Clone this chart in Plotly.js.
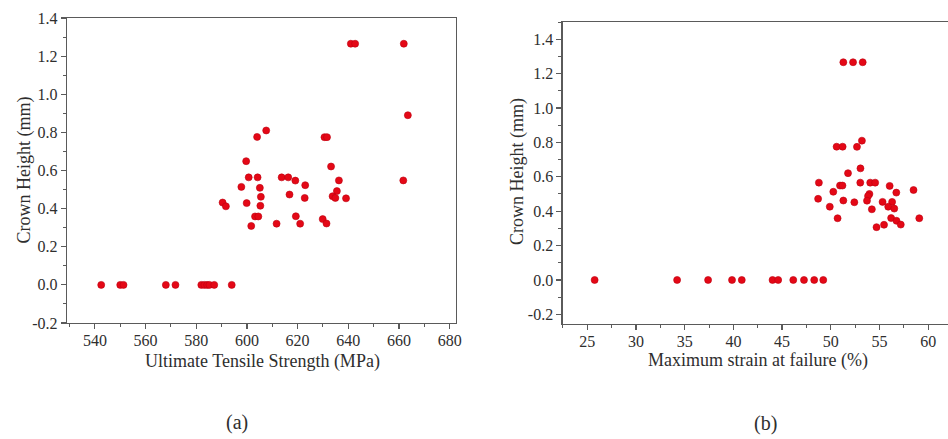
<!DOCTYPE html>
<html>
<head>
<meta charset="utf-8">
<script src="https://cdn.plot.ly/plotly-3.0.1.min.js"></script>
<style>html,body{margin:0;padding:0;background:#fff;}#chart{width:948px;height:439px;}</style>
</head>
<body>
<div id="chart"></div>
<script>
// (a) Ultimate Tensile Strength (MPa) vs Crown Height (mm)
const utsX = [542.5, 550, 551.3, 568, 571.8, 582, 583.2, 584.3, 585.2, 587.1, 594,
  641, 642.7, 661.9, 663.5, 661.7, 607.6, 604, 630.6, 631.6, 599.7, 633.2,
  600.7, 604.2, 613.7, 616.3, 619.1, 636.3, 623, 597.8, 605.1, 635.5,
  605.5, 616.8, 622.8, 633.8, 634.9, 639.1, 590.4, 591.7, 599.9, 605.3,
  603.2, 604.5, 601.7, 611.7, 619.3, 621, 629.9, 631.4];
const utsY = [0, 0, 0, 0, 0, 0, 0, 0, 0, 0, 0,
  1.265, 1.265, 1.265, 0.89, 0.548, 0.81, 0.776, 0.775, 0.775, 0.649, 0.621,
  0.564, 0.564, 0.564, 0.564, 0.547, 0.548, 0.523, 0.514, 0.509, 0.492,
  0.462, 0.474, 0.456, 0.465, 0.456, 0.454, 0.432, 0.412, 0.429, 0.415,
  0.359, 0.359, 0.309, 0.321, 0.36, 0.321, 0.345, 0.322];

// (b) Maximum strain at failure (%) vs Crown Height (mm)
const strainX = [25.75, 34.22, 37.4, 39.86, 40.86, 44.02, 44.6, 46.15, 47.25, 48.3, 49.23,
  51.29, 52.29, 53.28, 50.6, 51.22, 52.69, 53.2, 53.05, 51.77, 48.78,
  50.95, 51.2, 53.03, 54.05, 54.56, 56.05, 50.26, 56.73, 58.5, 53.97,
  53.83, 48.7, 51.29, 52.42, 53.72, 55.32, 56.3, 49.9, 54.22, 55.9,
  56.52, 50.7, 56.2, 54.7, 55.47, 56.75, 57.19, 59.09];
const strainY = [0, 0, 0, 0, 0, 0, 0, 0, 0, 0, 0,
  1.266, 1.266, 1.266, 0.775, 0.775, 0.774, 0.81, 0.649, 0.621, 0.566,
  0.549, 0.549, 0.566, 0.566, 0.566, 0.547, 0.513, 0.508, 0.523, 0.5,
  0.488, 0.472, 0.462, 0.452, 0.461, 0.454, 0.454, 0.426, 0.411, 0.426,
  0.415, 0.359, 0.36, 0.307, 0.321, 0.344, 0.322, 0.359];

const xTicksA = [540, 560, 580, 600, 620, 640, 660, 680];
const xTicksB = [25, 30, 35, 40, 45, 50, 55, 60];
const yTickVals = [-0.2, 0, 0.2, 0.4, 0.6, 0.8, 1.0, 1.2, 1.4];
const yTickText = ['-0.2', '0.0', '0.2', '0.4', '0.6', '0.8', '1.0', '1.2', '1.4'];

const titleA_x = 'Ultimate Tensile Strength (MPa)';
const titleB_x = 'Maximum strain at failure (%)';
const titleY = 'Crown Height (mm)';

const FONT = "'Liberation Serif', 'Times New Roman', serif";
const AX = '#5a5a5a';
const TXT = '#2e2e2e';
const marker = {size: 7, color: 'rgb(228,8,22)', line: {width: 0.6, color: 'rgb(190,0,15)'}};

const traces = [
  {x: utsX, y: utsY, type: 'scatter', mode: 'markers', marker: marker, xaxis: 'x', yaxis: 'y', hoverinfo: 'x+y'},
  {x: strainX, y: strainY, type: 'scatter', mode: 'markers', marker: marker, xaxis: 'x2', yaxis: 'y2', hoverinfo: 'x+y'}
];

function axis(extra) {
  return Object.assign({
    showgrid: false, zeroline: false, showline: true, linecolor: AX, linewidth: 1.3,
    ticks: 'outside', ticklen: 5, tickwidth: 1.2, tickcolor: AX,
    tickfont: {family: FONT, size: 16, color: TXT}
  }, extra);
}
const minorY = {ticks: 'outside', dtick: 0.1, ticklen: 3, tickcolor: AX, tickwidth: 1};

function label(text, x, y, angle, size) {
  return {text: text, xref: 'paper', yref: 'paper', x: x / 948, y: 1 - y / 439, showarrow: false,
    textangle: angle, font: {family: FONT, size: size, color: TXT}, xanchor: 'center', yanchor: 'middle'};
}

const layout = {
  width: 948, height: 439,
  margin: {l: 0, r: 0, t: 0, b: 0},
  paper_bgcolor: '#fff', plot_bgcolor: '#fff',
  showlegend: false,
  font: {family: FONT, color: TXT, size: 16},
  xaxis: axis({
    domain: [67/948, 456/948], range: [529, 682.5], anchor: 'y',
    tickvals: xTicksA, mirror: true, ticklabelstandoff: -3,
    minor: {ticks: 'outside', dtick: 10, ticklen: 3, tickcolor: AX, tickwidth: 1}
  }),
  yaxis: axis({
    domain: [1 - 323/439, 1 - 18/439], range: [-0.2, 1.4], anchor: 'x',
    tickvals: yTickVals, ticktext: yTickText, mirror: true, minor: minorY
  }),
  xaxis2: axis({
    domain: [562.7/948, 1], range: [22.47, 62.04], anchor: 'y2',
    tickvals: xTicksB, mirror: true, ticklabelstandoff: -3,
    minor: {ticks: 'outside', dtick: 2.5, ticklen: 3, tickcolor: AX, tickwidth: 1}
  }),
  yaxis2: axis({
    domain: [1 - 324/439, 1 - 22/439], range: [-0.256, 1.5], anchor: 'x2',
    tickvals: yTickVals, ticktext: yTickText, mirror: false, minor: minorY
  }),
  annotations: [
    label(titleA_x, 262, 361, 0, 18),
    label(titleY, 24, 170.5, -90, 18),
    label(titleB_x, 758, 360, 0, 18),
    label(titleY, 517, 172, -90, 18),
    label('(a)', 237, 422, 0, 20),
    label('(b)', 765, 423, 0, 20)
  ]
};

Plotly.newPlot('chart', traces, layout, {staticPlot: true, displayModeBar: false});
</script>
</body>
</html>
